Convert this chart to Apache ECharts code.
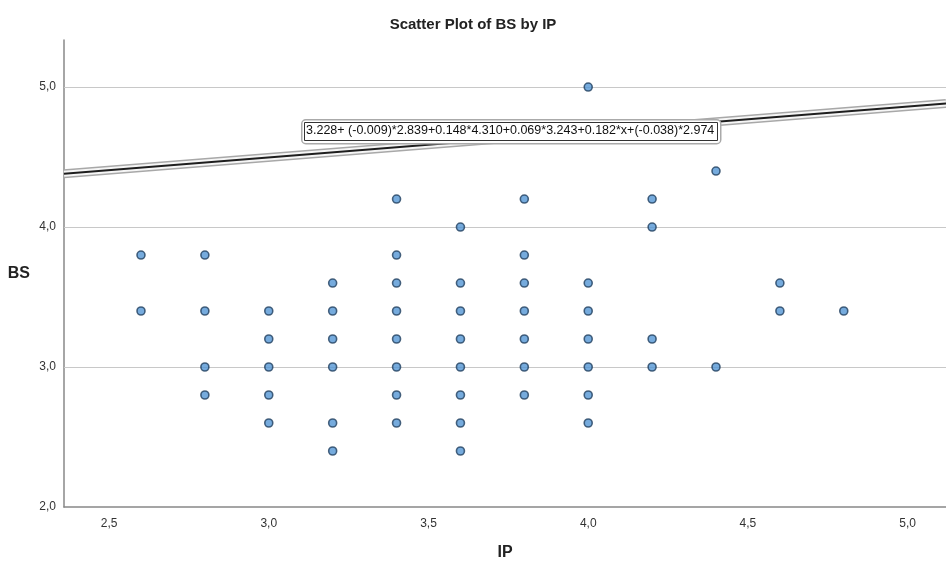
<!DOCTYPE html>
<html><head><meta charset="utf-8">
<script src="https://cdn.jsdelivr.net/npm/echarts@6/dist/echarts.min.js"></script>
<style>html,body{margin:0;padding:0;background:#fff}#c{width:946px;height:568px}</style>
</head><body><div id="c"></div>
<script>
const ipValues = [2.6, 2.8, 3.0, 3.2, 3.4, 3.6, 3.8, 4.0, 4.2, 4.4, 4.6, 4.8];
const bsByIp = [
  [3.8, 3.4],
  [3.8, 3.4, 3.0, 2.8],
  [3.4, 3.2, 3.0, 2.8, 2.6],
  [3.6, 3.4, 3.2, 3.0, 2.6, 2.4],
  [4.2, 3.8, 3.6, 3.4, 3.2, 3.0, 2.8, 2.6],
  [4.0, 3.6, 3.4, 3.2, 3.0, 2.8, 2.6, 2.4],
  [4.2, 3.8, 3.6, 3.4, 3.2, 3.0, 2.8],
  [5.0, 3.6, 3.4, 3.2, 3.0, 2.8, 2.6],
  [4.2, 4.0, 3.2, 3.0],
  [4.4, 3.0],
  [3.6, 3.4],
  [3.4]
];
// Fit line equation terms shown in the chart
const intercept = 3.228;
const fixedCoefs = [-0.009, 0.148, 0.069, -0.038];
const fixedMeans = [2.839, 4.310, 3.243, 2.974];
const slopeX = 0.182;
const eqText = '3.228+ (-0.009)*2.839+0.148*4.310+0.069*3.243+0.182*x+(-0.038)*2.974';
const xTicks = [2.5, 3.0, 3.5, 4.0, 4.5, 5.0];
const yTicks = [2.0, 3.0, 4.0, 5.0];
const yGrid = [3.0, 4.0, 5.0];
const xMin = 2.359, xMax = 5.12, yMin = 2.0, yMax = 5.336;

const points = [];
ipValues.forEach((x, i) => bsByIp[i].forEach(y => points.push([x, y])));
let c0 = intercept;
fixedCoefs.forEach((b, i) => { c0 += b * fixedMeans[i]; });
const fitLine = [[xMin, c0 + slopeX * xMin], [xMax, c0 + slopeX * xMax]];

const fmt = v => Number(v).toFixed(1).replace('.', ',');
const chart = echarts.init(document.getElementById('c'), null, {renderer: 'canvas'});
const lineBase = {type: 'line', data: fitLine, symbol: 'none', silent: true, animation: false, z: 3};
chart.setOption({
  backgroundColor: '#fff',
  animation: false,
  title: {text: 'Scatter Plot of BS by IP', left: 'center', top: 12,
    textStyle: {fontFamily: 'Liberation Sans, Arial', fontSize: 15, fontWeight: 'bold', color: '#222'}},
  grid: {left: 64, right: 0, top: 40, bottom: 61, containLabel: false, outerBoundsMode: 'none'},
  xAxis: {
    type: 'value', min: xMin, max: xMax,
    name: 'IP', nameLocation: 'middle', nameGap: 38,
    nameTextStyle: {fontFamily: 'Liberation Sans, Arial', fontSize: 16, fontWeight: 'bold', color: '#222'},
    axisLine: {show: true, lineStyle: {color: '#888', width: 1.5}},
    axisTick: {show: false},
    splitLine: {show: false},
    axisLabel: {customValues: xTicks, formatter: fmt, margin: 11,
      fontFamily: 'Liberation Sans, Arial', fontSize: 12, color: '#333'}
  },
  yAxis: {
    type: 'value', min: yMin, max: yMax,
    name: 'BS', nameLocation: 'middle', nameGap: 34, nameRotate: 0,
    nameTextStyle: {fontFamily: 'Liberation Sans, Arial', fontSize: 16, fontWeight: 'bold', color: '#222'},
    axisLine: {show: true, lineStyle: {color: '#888', width: 1.5}},
    axisTick: {show: false},
    splitLine: {show: false},
    axisLabel: {customValues: yTicks, formatter: fmt, margin: 8,
      fontFamily: 'Liberation Sans, Arial', fontSize: 12, color: '#333'}
  },
  series: [
    Object.assign({}, lineBase, {lineStyle: {color: '#a8a8a8', width: 9},
      markLine: {silent: true, symbol: 'none', label: {show: false}, animation: false,
        lineStyle: {color: '#c8c8c8', width: 1, type: 'solid'},
        data: yGrid.map(v => ({yAxis: v}))}}),
    Object.assign({}, lineBase, {lineStyle: {color: '#f6f6f6', width: 6}}),
    Object.assign({}, lineBase, {lineStyle: {color: '#1e1e1e', width: 2}}),
    {
      type: 'scatter', data: points, symbol: 'circle', symbolSize: 8, z: 5,
      itemStyle: {color: '#5496d4', borderColor: '#22405f', borderWidth: 1.6}
    }
  ],
  graphic: [
    {type: 'rect', left: 301, top: 119, z: 10,
      shape: {width: 419, height: 24, r: 4},
      style: {fill: '#fff', stroke: '#aaa', lineWidth: 1.5}},
    {type: 'rect', left: 304, top: 122, z: 11,
      shape: {width: 413, height: 18},
      style: {fill: '#fff', stroke: '#333', lineWidth: 1}},
    {type: 'text', left: 306, top: 124, z: 12,
      style: {text: eqText, fontFamily: 'Liberation Sans, Arial', fontSize: 12.5, fill: '#111'}}
  ]
});
</script></body></html>
